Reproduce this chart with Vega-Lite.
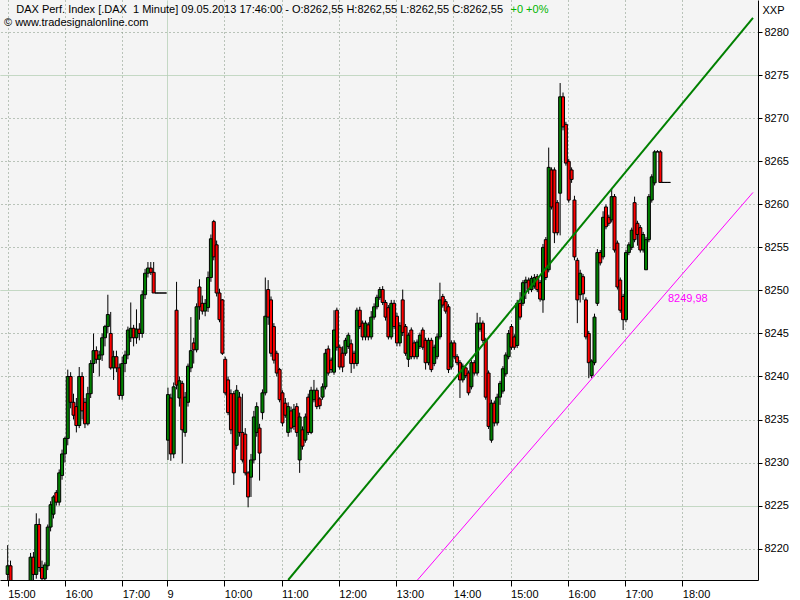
{
"$schema": "https://vega.github.io/schema/vega-lite/v6.json",
"width": 758, "height": 580,
"autosize": {"type": "none"},
"padding": {"left": 0, "top": 0, "right": 42, "bottom": 20},
"background": "white",
"config": {"view": {"stroke": null, "fill": "#f4f4f4"}, "font": "Liberation Sans"},
"title": {"text": "\u2060\u00a0\u00a0\u00a0\u00a0DAX Perf. Index [.DAX\u00a0 1 Minute] 09.05.2013 17:46:00 - O:8262,55 H:8262,55 L:8262,55 C:8262,55", "subtitle": "\u00a9 www.tradesignalonline.com", "anchor": "start", "frame": "group", "orient": "top", "offset": 0, "dx": 4, "dy": 28, "font": "Liberation Sans", "fontSize": 11, "fontWeight": "normal", "color": "black", "subtitleFont": "Liberation Sans", "subtitleFontSize": 11, "subtitleColor": "black", "subtitlePadding": 2},
"datasets": {
"bars": [
{"t":0,"o":8217.0,"h":8220.4,"l":8215.5,"c":8218.0},
{"t":3,"o":8218.0,"h":8218.6,"l":8215.0,"c":8215.5},
{"t":6,"o":8215.5,"h":8216.0,"l":8213.0,"c":8214.0},
{"t":9,"o":8214.0,"h":8215.0,"l":8212.0,"c":8213.0},
{"t":12,"o":8213.0,"h":8214.5,"l":8212.0,"c":8214.0},
{"t":15,"o":8214.0,"h":8215.0,"l":8213.0,"c":8213.5},
{"t":18,"o":8213.5,"h":8215.0,"l":8212.5,"c":8214.5},
{"t":21,"o":8214.5,"h":8215.8,"l":8214.0,"c":8215.5},
{"t":24,"o":8215.5,"h":8219.5,"l":8215.0,"c":8219.0},
{"t":27,"o":8219.0,"h":8219.6,"l":8216.0,"c":8217.0},
{"t":30,"o":8217.0,"h":8224.1,"l":8216.5,"c":8222.8},
{"t":33,"o":8222.8,"h":8223.5,"l":8217.3,"c":8217.8},
{"t":36,"o":8217.8,"h":8218.6,"l":8215.8,"c":8216.5},
{"t":39,"o":8216.5,"h":8218.4,"l":8215.9,"c":8218.1},
{"t":42,"o":8218.0,"h":8222.8,"l":8217.5,"c":8222.5},
{"t":45,"o":8222.5,"h":8225.5,"l":8222.0,"c":8225.1},
{"t":48,"o":8224.0,"h":8226.2,"l":8223.5,"c":8226.0},
{"t":51,"o":8226.5,"h":8226.8,"l":8225.0,"c":8225.4},
{"t":54,"o":8225.4,"h":8229.2,"l":8225.0,"c":8228.8},
{"t":57,"o":8228.5,"h":8231.5,"l":8228.0,"c":8231.0},
{"t":60,"o":8231.0,"h":8233.0,"l":8230.0,"c":8232.8},
{"t":63,"o":8232.8,"h":8240.8,"l":8232.0,"c":8240.0},
{"t":66,"o":8240.0,"h":8240.5,"l":8236.3,"c":8237.0},
{"t":69,"o":8237.0,"h":8238.0,"l":8235.0,"c":8235.5},
{"t":72,"o":8236.5,"h":8237.5,"l":8233.5,"c":8234.3},
{"t":75,"o":8234.3,"h":8241.1,"l":8234.0,"c":8240.0},
{"t":78,"o":8240.0,"h":8240.5,"l":8235.0,"c":8236.0},
{"t":81,"o":8237.0,"h":8237.5,"l":8234.0,"c":8234.5},
{"t":84,"o":8234.5,"h":8238.8,"l":8234.3,"c":8238.0},
{"t":87,"o":8238.0,"h":8241.9,"l":8237.5,"c":8241.5},
{"t":90,"o":8241.5,"h":8245.0,"l":8240.4,"c":8243.0},
{"t":93,"o":8243.0,"h":8243.5,"l":8241.5,"c":8242.0},
{"t":96,"o":8242.0,"h":8243.0,"l":8240.0,"c":8242.5},
{"t":99,"o":8242.5,"h":8245.0,"l":8241.8,"c":8244.5},
{"t":102,"o":8244.5,"h":8246.0,"l":8243.5,"c":8245.8},
{"t":105,"o":8245.8,"h":8249.5,"l":8245.0,"c":8247.2},
{"t":108,"o":8245.0,"h":8247.5,"l":8240.8,"c":8241.0},
{"t":111,"o":8241.0,"h":8243.0,"l":8239.6,"c":8242.3},
{"t":114,"o":8242.3,"h":8243.0,"l":8240.5,"c":8241.0},
{"t":117,"o":8241.0,"h":8241.5,"l":8237.3,"c":8237.8},
{"t":120,"o":8237.8,"h":8242.3,"l":8237.3,"c":8241.5},
{"t":123,"o":8241.5,"h":8243.0,"l":8240.5,"c":8242.5},
{"t":126,"o":8242.5,"h":8245.8,"l":8242.0,"c":8245.4},
{"t":129,"o":8244.5,"h":8248.6,"l":8244.0,"c":8245.6},
{"t":132,"o":8245.6,"h":8246.0,"l":8243.5,"c":8244.5},
{"t":135,"o":8244.5,"h":8247.8,"l":8243.8,"c":8245.5},
{"t":138,"o":8245.5,"h":8246.2,"l":8244.2,"c":8245.0},
{"t":141,"o":8245.0,"h":8250.0,"l":8244.5,"c":8249.5},
{"t":144,"o":8249.5,"h":8252.5,"l":8249.0,"c":8252.0},
{"t":147,"o":8252.0,"h":8253.3,"l":8251.5,"c":8252.6},
{"t":150,"o":8252.6,"h":8253.3,"l":8251.8,"c":8252.1},
{"t":153,"o":8252.1,"h":8253.3,"l":8249.7,"c":8249.7},
{"t":156,"o":8249.7,"h":8249.7,"l":8249.7,"c":8249.7},
{"t":159,"o":8249.7,"h":8249.7,"l":8249.7,"c":8249.7},
{"t":162,"o":8249.7,"h":8249.7,"l":8249.7,"c":8249.7},
{"t":165,"o":8249.7,"h":8249.7,"l":8249.7,"c":8249.7},
{"t":168,"o":8232.6,"h":8238.7,"l":8230.3,"c":8237.9},
{"t":171,"o":8237.5,"h":8238.0,"l":8230.2,"c":8231.0},
{"t":174,"o":8231.0,"h":8239.3,"l":8230.5,"c":8238.8},
{"t":177,"o":8247.7,"h":8251.0,"l":8238.5,"c":8239.0},
{"t":180,"o":8237.5,"h":8240.0,"l":8236.5,"c":8239.5},
{"t":183,"o":8239.2,"h":8239.5,"l":8229.9,"c":8233.8},
{"t":186,"o":8233.5,"h":8238.2,"l":8233.0,"c":8237.6},
{"t":189,"o":8237.0,"h":8241.5,"l":8236.5,"c":8241.2},
{"t":192,"o":8241.0,"h":8246.9,"l":8240.5,"c":8243.0},
{"t":195,"o":8243.9,"h":8244.5,"l":8241.5,"c":8243.1},
{"t":198,"o":8243.1,"h":8248.5,"l":8242.8,"c":8248.1},
{"t":201,"o":8250.4,"h":8251.3,"l":8246.6,"c":8248.1},
{"t":204,"o":8248.5,"h":8249.4,"l":8247.2,"c":8247.6},
{"t":207,"o":8247.6,"h":8249.0,"l":8247.0,"c":8248.5},
{"t":210,"o":8248.0,"h":8252.2,"l":8247.5,"c":8251.5},
{"t":213,"o":8251.5,"h":8256.5,"l":8251.0,"c":8256.0},
{"t":216,"o":8258.0,"h":8258.2,"l":8253.5,"c":8253.9},
{"t":219,"o":8255.3,"h":8255.8,"l":8249.3,"c":8249.7},
{"t":222,"o":8249.7,"h":8250.2,"l":8246.3,"c":8246.6},
{"t":225,"o":8248.9,"h":8249.0,"l":8242.5,"c":8242.7},
{"t":228,"o":8242.0,"h":8242.3,"l":8237.8,"c":8238.1},
{"t":231,"o":8239.6,"h":8240.0,"l":8235.5,"c":8235.8},
{"t":234,"o":8238.0,"h":8238.5,"l":8233.3,"c":8233.8},
{"t":237,"o":8238.0,"h":8238.3,"l":8227.4,"c":8228.8},
{"t":240,"o":8232.0,"h":8239.0,"l":8231.5,"c":8238.4},
{"t":243,"o":8237.6,"h":8238.2,"l":8233.0,"c":8233.5},
{"t":246,"o":8233.5,"h":8238.0,"l":8230.0,"c":8230.3},
{"t":249,"o":8233.3,"h":8234.0,"l":8228.5,"c":8228.8},
{"t":252,"o":8228.8,"h":8229.0,"l":8224.8,"c":8226.0},
{"t":255,"o":8228.3,"h":8231.0,"l":8226.0,"c":8230.3},
{"t":258,"o":8230.3,"h":8236.0,"l":8229.9,"c":8235.3},
{"t":261,"o":8233.5,"h":8237.0,"l":8233.0,"c":8236.5},
{"t":264,"o":8234.0,"h":8234.5,"l":8227.9,"c":8231.1},
{"t":267,"o":8235.8,"h":8238.5,"l":8235.0,"c":8238.1},
{"t":270,"o":8238.1,"h":8251.5,"l":8237.8,"c":8247.0},
{"t":273,"o":8250.1,"h":8251.2,"l":8246.0,"c":8246.9},
{"t":276,"o":8248.9,"h":8249.3,"l":8242.3,"c":8242.7},
{"t":279,"o":8245.8,"h":8246.2,"l":8241.5,"c":8241.9},
{"t":282,"o":8242.7,"h":8243.0,"l":8240.0,"c":8240.4},
{"t":285,"o":8240.8,"h":8241.0,"l":8237.0,"c":8237.3},
{"t":288,"o":8238.1,"h":8238.4,"l":8234.2,"c":8234.6},
{"t":291,"o":8236.9,"h":8237.5,"l":8235.2,"c":8235.5},
{"t":294,"o":8233.5,"h":8237.0,"l":8233.0,"c":8236.5},
{"t":297,"o":8236.0,"h":8236.5,"l":8233.5,"c":8234.0},
{"t":300,"o":8234.2,"h":8236.8,"l":8233.8,"c":8236.2},
{"t":303,"o":8236.5,"h":8236.9,"l":8233.0,"c":8233.5},
{"t":306,"o":8230.3,"h":8235.8,"l":8228.8,"c":8235.3},
{"t":309,"o":8233.8,"h":8234.2,"l":8231.5,"c":8231.9},
{"t":312,"o":8232.6,"h":8235.7,"l":8232.3,"c":8235.3},
{"t":315,"o":8237.6,"h":8238.0,"l":8233.2,"c":8233.5},
{"t":318,"o":8233.5,"h":8238.8,"l":8233.3,"c":8238.4},
{"t":321,"o":8237.3,"h":8239.6,"l":8237.0,"c":8238.4},
{"t":324,"o":8238.4,"h":8238.7,"l":8236.2,"c":8236.5},
{"t":327,"o":8237.4,"h":8237.6,"l":8236.2,"c":8236.6},
{"t":330,"o":8237.6,"h":8239.2,"l":8237.3,"c":8238.8},
{"t":333,"o":8238.8,"h":8243.2,"l":8238.5,"c":8242.7},
{"t":336,"o":8243.2,"h":8243.6,"l":8240.1,"c":8240.4},
{"t":339,"o":8241.9,"h":8242.2,"l":8240.4,"c":8240.8},
{"t":342,"o":8240.5,"h":8247.7,"l":8240.2,"c":8245.4},
{"t":345,"o":8247.7,"h":8248.0,"l":8243.0,"c":8243.4},
{"t":348,"o":8243.4,"h":8243.7,"l":8240.8,"c":8241.1},
{"t":351,"o":8242.7,"h":8243.5,"l":8240.5,"c":8241.1},
{"t":354,"o":8242.7,"h":8244.5,"l":8242.4,"c":8244.2},
{"t":357,"o":8243.5,"h":8245.1,"l":8243.2,"c":8244.8},
{"t":360,"o":8243.8,"h":8244.3,"l":8240.4,"c":8241.5},
{"t":363,"o":8242.7,"h":8243.0,"l":8240.9,"c":8241.5},
{"t":366,"o":8241.5,"h":8248.0,"l":8241.2,"c":8247.7},
{"t":369,"o":8247.7,"h":8248.1,"l":8245.5,"c":8245.8},
{"t":372,"o":8246.2,"h":8246.5,"l":8244.2,"c":8244.6},
{"t":375,"o":8244.6,"h":8246.5,"l":8244.2,"c":8246.2},
{"t":378,"o":8246.0,"h":8246.3,"l":8244.2,"c":8244.6},
{"t":381,"o":8244.6,"h":8247.6,"l":8244.3,"c":8246.9},
{"t":384,"o":8246.9,"h":8248.5,"l":8246.6,"c":8248.1},
{"t":387,"o":8248.1,"h":8249.5,"l":8247.8,"c":8249.2},
{"t":390,"o":8249.2,"h":8250.4,"l":8248.9,"c":8250.1},
{"t":393,"o":8250.1,"h":8250.5,"l":8248.3,"c":8248.6},
{"t":396,"o":8248.6,"h":8248.9,"l":8246.5,"c":8246.9},
{"t":399,"o":8248.0,"h":8248.3,"l":8244.3,"c":8244.6},
{"t":402,"o":8244.6,"h":8248.9,"l":8244.3,"c":8248.5},
{"t":405,"o":8248.5,"h":8248.9,"l":8245.5,"c":8245.8},
{"t":408,"o":8247.0,"h":8247.4,"l":8243.5,"c":8243.9},
{"t":411,"o":8243.9,"h":8246.3,"l":8243.5,"c":8245.9},
{"t":414,"o":8248.9,"h":8250.1,"l":8244.7,"c":8245.1},
{"t":417,"o":8245.8,"h":8246.1,"l":8242.4,"c":8242.7},
{"t":420,"o":8242.0,"h":8245.1,"l":8241.1,"c":8244.8},
{"t":423,"o":8245.4,"h":8245.7,"l":8242.0,"c":8242.3},
{"t":426,"o":8243.9,"h":8244.2,"l":8242.0,"c":8242.3},
{"t":429,"o":8242.3,"h":8244.3,"l":8242.0,"c":8244.0},
{"t":432,"o":8243.5,"h":8245.1,"l":8243.2,"c":8244.8},
{"t":435,"o":8245.4,"h":8245.7,"l":8243.1,"c":8243.4},
{"t":438,"o":8244.2,"h":8244.5,"l":8240.8,"c":8241.6},
{"t":441,"o":8241.6,"h":8244.5,"l":8241.3,"c":8244.2},
{"t":444,"o":8244.2,"h":8244.5,"l":8240.5,"c":8240.8},
{"t":447,"o":8241.5,"h":8243.7,"l":8241.2,"c":8243.4},
{"t":450,"o":8242.3,"h":8245.0,"l":8242.0,"c":8244.6},
{"t":453,"o":8244.6,"h":8250.9,"l":8244.3,"c":8248.9},
{"t":456,"o":8249.3,"h":8249.6,"l":8248.0,"c":8248.3},
{"t":459,"o":8248.7,"h":8249.0,"l":8247.3,"c":8247.6},
{"t":462,"o":8248.1,"h":8248.4,"l":8240.4,"c":8240.8},
{"t":465,"o":8241.1,"h":8244.2,"l":8240.8,"c":8243.9},
{"t":468,"o":8243.9,"h":8244.2,"l":8242.0,"c":8242.3},
{"t":471,"o":8242.3,"h":8242.6,"l":8241.3,"c":8241.6},
{"t":474,"o":8241.6,"h":8241.9,"l":8237.5,"c":8239.6},
{"t":477,"o":8239.6,"h":8241.5,"l":8239.3,"c":8241.2},
{"t":480,"o":8241.0,"h":8241.3,"l":8239.8,"c":8240.1},
{"t":483,"o":8240.4,"h":8240.7,"l":8237.8,"c":8238.1},
{"t":486,"o":8238.8,"h":8241.9,"l":8238.5,"c":8241.6},
{"t":489,"o":8241.6,"h":8241.9,"l":8240.1,"c":8240.4},
{"t":492,"o":8240.4,"h":8247.4,"l":8240.1,"c":8246.2},
{"t":495,"o":8245.5,"h":8246.9,"l":8245.2,"c":8246.2},
{"t":498,"o":8246.2,"h":8246.5,"l":8243.9,"c":8244.2},
{"t":501,"o":8244.2,"h":8244.5,"l":8237.3,"c":8237.6},
{"t":504,"o":8240.4,"h":8240.7,"l":8233.9,"c":8234.2},
{"t":507,"o":8232.6,"h":8237.3,"l":8232.3,"c":8236.9},
{"t":510,"o":8236.9,"h":8237.2,"l":8234.2,"c":8234.6},
{"t":513,"o":8234.6,"h":8238.0,"l":8234.3,"c":8237.6},
{"t":516,"o":8237.6,"h":8239.5,"l":8236.7,"c":8239.2},
{"t":519,"o":8238.3,"h":8241.2,"l":8238.0,"c":8240.9},
{"t":522,"o":8240.3,"h":8242.8,"l":8240.0,"c":8242.5},
{"t":525,"o":8242.3,"h":8245.4,"l":8242.0,"c":8245.0},
{"t":528,"o":8245.8,"h":8246.1,"l":8243.1,"c":8243.4},
{"t":531,"o":8244.6,"h":8244.9,"l":8243.1,"c":8243.4},
{"t":534,"o":8243.6,"h":8248.9,"l":8243.3,"c":8248.5},
{"t":537,"o":8248.5,"h":8249.8,"l":8246.6,"c":8246.9},
{"t":540,"o":8248.5,"h":8251.2,"l":8248.2,"c":8250.9},
{"t":543,"o":8250.9,"h":8251.6,"l":8249.0,"c":8251.2},
{"t":546,"o":8251.2,"h":8251.5,"l":8249.6,"c":8250.1},
{"t":549,"o":8250.1,"h":8251.7,"l":8249.8,"c":8251.4},
{"t":552,"o":8250.5,"h":8251.9,"l":8250.2,"c":8251.5},
{"t":555,"o":8251.6,"h":8251.9,"l":8249.8,"c":8250.1},
{"t":558,"o":8250.9,"h":8251.2,"l":8248.7,"c":8249.0},
{"t":561,"o":8248.9,"h":8255.4,"l":8247.4,"c":8255.0},
{"t":564,"o":8255.9,"h":8256.2,"l":8251.2,"c":8251.5},
{"t":567,"o":8252.4,"h":8266.6,"l":8252.1,"c":8264.3},
{"t":570,"o":8264.0,"h":8264.3,"l":8259.4,"c":8259.7},
{"t":573,"o":8264.0,"h":8264.3,"l":8255.5,"c":8256.7},
{"t":576,"o":8260.2,"h":8260.5,"l":8256.4,"c":8256.7},
{"t":579,"o":8261.3,"h":8274.1,"l":8256.4,"c":8272.5},
{"t":582,"o":8272.5,"h":8273.0,"l":8268.6,"c":8269.0},
{"t":585,"o":8269.3,"h":8269.6,"l":8264.5,"c":8264.8},
{"t":588,"o":8265.0,"h":8265.3,"l":8260.2,"c":8260.5},
{"t":591,"o":8264.0,"h":8264.3,"l":8262.5,"c":8262.9},
{"t":594,"o":8260.5,"h":8261.0,"l":8253.5,"c":8253.9},
{"t":597,"o":8253.5,"h":8253.8,"l":8246.2,"c":8248.9},
{"t":600,"o":8249.5,"h":8252.4,"l":8248.6,"c":8252.0},
{"t":603,"o":8251.6,"h":8251.9,"l":8248.9,"c":8249.6},
{"t":606,"o":8248.9,"h":8249.2,"l":8244.3,"c":8244.6},
{"t":609,"o":8245.0,"h":8245.3,"l":8239.8,"c":8241.6},
{"t":612,"o":8240.1,"h":8242.0,"l":8239.8,"c":8241.8},
{"t":615,"o":8241.6,"h":8247.3,"l":8241.3,"c":8246.9},
{"t":618,"o":8248.5,"h":8254.8,"l":8248.2,"c":8254.4},
{"t":621,"o":8254.4,"h":8254.7,"l":8252.9,"c":8253.2},
{"t":624,"o":8253.9,"h":8259.2,"l":8253.6,"c":8258.5},
{"t":627,"o":8259.7,"h":8260.0,"l":8257.1,"c":8257.4},
{"t":630,"o":8258.5,"h":8258.8,"l":8257.5,"c":8257.8},
{"t":633,"o":8258.2,"h":8261.8,"l":8257.9,"c":8260.9},
{"t":636,"o":8260.9,"h":8261.2,"l":8254.4,"c":8254.7},
{"t":639,"o":8255.5,"h":8255.8,"l":8250.1,"c":8250.4},
{"t":642,"o":8251.2,"h":8251.5,"l":8247.4,"c":8247.7},
{"t":645,"o":8249.3,"h":8249.6,"l":8245.4,"c":8246.6},
{"t":648,"o":8246.6,"h":8254.7,"l":8246.3,"c":8254.4},
{"t":651,"o":8254.4,"h":8255.6,"l":8254.1,"c":8255.3},
{"t":654,"o":8255.0,"h":8257.3,"l":8254.7,"c":8257.0},
{"t":657,"o":8260.2,"h":8260.9,"l":8255.6,"c":8255.9},
{"t":660,"o":8257.8,"h":8258.1,"l":8255.2,"c":8256.5},
{"t":663,"o":8257.3,"h":8257.6,"l":8254.4,"c":8254.7},
{"t":666,"o":8254.7,"h":8256.8,"l":8254.4,"c":8256.5},
{"t":669,"o":8252.4,"h":8256.2,"l":8252.4,"c":8255.9},
{"t":672,"o":8255.9,"h":8261.2,"l":8255.6,"c":8260.9},
{"t":675,"o":8260.5,"h":8263.5,"l":8260.2,"c":8263.2},
{"t":678,"o":8262.5,"h":8266.3,"l":8262.2,"c":8266.1},
{"t":681,"o":8266.1,"h":8266.3,"l":8266.1,"c":8266.1},
{"t":684,"o":8266.1,"h":8266.3,"l":8262.55,"c":8262.55},
{"t":687,"o":8262.55,"h":8262.55,"l":8262.55,"c":8262.55},
{"t":690,"o":8262.55,"h":8262.55,"l":8262.55,"c":8262.55},
{"t":693,"o":8262.55,"h":8262.55,"l":8262.55,"c":8262.55}
],
"trendGreen": [{"t": 294.0, "p": 8216.35}, {"t": 781.1, "p": 8281.66}],
"trendMagenta": [{"t": 429.5, "p": 8216.35}, {"t": 781.1, "p": 8261.39}],
"lineLabel": [{"t": 692, "p": 8249.98, "label": "8249,98"}]
},
"layer": [
{
"data": {"name": "bars"},
"mark": {"type": "rule", "color": "black", "strokeWidth": 1, "clip": true},
"encoding": {
"x": {"field": "t", "type": "quantitative", "scale": {"domain": [-2.79, 781.1], "nice": false, "zero": false},
"axis": {"values": [0, 60, 120, 167, 227, 287, 347, 407, 467, 527, 587, 647, 707],
"labelExpr": "datum.value < 160 ? (15 + datum.value/60) + ':00' : (datum.value == 167 ? '9' : (9 + (datum.value - 167)/60) + ':00')",
"labelAlign": "left", "labelOffset": 0, "labelPadding": 2, "labelFlush": false, "labelOverlap": false, "labelBound": false,
"labelFont": "Liberation Sans", "labelFontSize": 11, "labelColor": "black",
"tickSize": 6, "tickColor": "black", "domainColor": "black",
"grid": true,
"gridColor": {"condition": {"test": "datum.value === 167", "value": "#b4cfb4"}, "value": "#7f937f"},
"gridDash": {"condition": {"test": "datum.value === 167", "value": [1, 0]}, "value": [1, 3]},
"title": "+0 +0%", "titleColor": "#00b400", "titleFont": "Liberation Sans", "titleFontSize": 11, "titleFontWeight": "normal",
"titleX": 510, "titleY": -568, "titleAlign": "left", "titleBaseline": "alphabetic", "titleAngle": 0}},
"y": {"field": "l", "type": "quantitative", "scale": {"domain": [8216.35, 8283.75], "nice": false, "zero": false},
"axis": {"orient": "right", "values": [8220, 8225, 8230, 8235, 8240, 8245, 8250, 8255, 8260, 8265, 8270, 8275, 8280], "format": "d",
"labelFont": "Liberation Sans", "labelFontSize": 11, "labelColor": "black", "labelPadding": 2, "labelFlush": false, "labelOverlap": false, "labelBaseline": "middle",
"tickSize": 4, "tickColor": "black", "domainColor": "black",
"grid": true,
"gridColor": {"condition": {"test": "datum.value % 25 === 0", "value": "#b4cfb4"}, "value": "#7f937f"},
"gridDash": {"condition": {"test": "datum.value % 25 === 0", "value": [1, 0]}, "value": [1, 3]},
"title": "XXP", "titleColor": "black", "titleFont": "Liberation Sans", "titleFontSize": 11, "titleFontWeight": "normal",
"titleX": 4, "titleY": 13, "titleAlign": "left", "titleBaseline": "alphabetic", "titleAngle": 0}},
"y2": {"field": "h"}
}
},
{
"data": {"name": "bars"},
"mark": {"type": "bar", "width": 3, "stroke": "black", "strokeWidth": 1, "clip": true},
"encoding": {
"x": {"field": "t", "type": "quantitative"},
"y": {"field": "o", "type": "quantitative"},
"y2": {"field": "c"},
"fill": {"condition": {"test": "datum.c >= datum.o", "value": "#008000"}, "value": "#ff0000"}
}
},
{
"data": {"name": "trendGreen"},
"mark": {"type": "line", "color": "#008000", "strokeWidth": 2, "clip": true},
"encoding": {
"x": {"field": "t", "type": "quantitative"},
"y": {"field": "p", "type": "quantitative"}
}
},
{
"data": {"name": "trendMagenta"},
"mark": {"type": "line", "color": "#ff00ff", "strokeWidth": 1, "clip": true},
"encoding": {
"x": {"field": "t", "type": "quantitative"},
"y": {"field": "p", "type": "quantitative"}
}
},
{
"data": {"name": "lineLabel"},
"mark": {"type": "text", "align": "left", "baseline": "top", "dy": 2, "color": "#ff00ff", "font": "Liberation Sans", "fontSize": 11},
"encoding": {
"x": {"field": "t", "type": "quantitative"},
"y": {"field": "p", "type": "quantitative"},
"text": {"field": "label"}
}
}
]
}
